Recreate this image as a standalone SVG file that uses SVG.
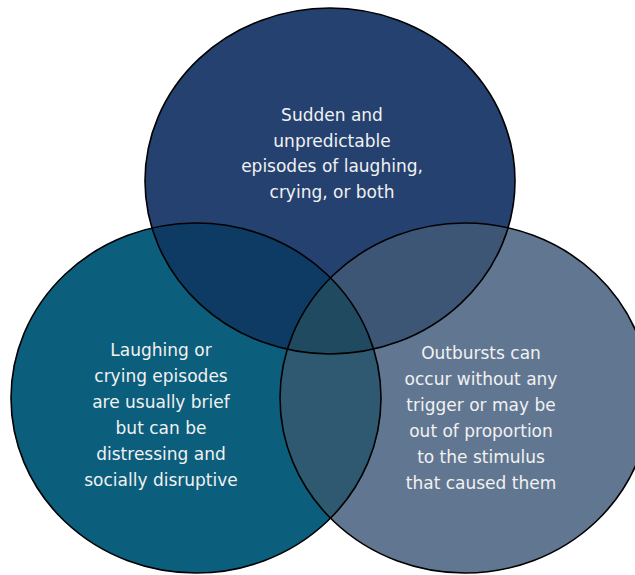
<svg xmlns="http://www.w3.org/2000/svg" width="635" height="575" viewBox="0 0 635 575">
  <style>
    .lbl { font-family: "DejaVu Sans", "Liberation Sans", sans-serif; font-size: 17px; fill: #f1f1f1; text-anchor: middle; }
    .edge { fill: none; stroke: #000; stroke-width: 1.6; }
  </style>
  <defs>
    <clipPath id="clipTop"><ellipse cx="330" cy="181" rx="185" ry="173"/></clipPath>
    <clipPath id="clipLeft"><ellipse cx="196" cy="398" rx="185" ry="175"/></clipPath>
    <clipPath id="clipRight"><ellipse cx="465" cy="398" rx="185" ry="175"/></clipPath>
  </defs>
  <rect width="635" height="575" fill="#ffffff"/>

  <!-- base fills -->
  <g id="set-top-fill"><ellipse cx="330" cy="181" rx="185" ry="173" fill="#25416f"/></g>
  <g id="set-left-fill"><ellipse cx="196" cy="398" rx="185" ry="175" fill="#0b5e7c"/></g>
  <g id="set-right-fill"><ellipse cx="465" cy="398" rx="185" ry="175" fill="#617791"/></g>

  <!-- pairwise overlaps -->
  <g id="overlap-top-left" clip-path="url(#clipTop)">
    <ellipse cx="196" cy="398" rx="185" ry="175" fill="#0e3b63"/>
  </g>
  <g id="overlap-top-right" clip-path="url(#clipTop)">
    <ellipse cx="465" cy="398" rx="185" ry="175" fill="#3e5676"/>
  </g>
  <g id="overlap-left-right" clip-path="url(#clipLeft)">
    <ellipse cx="465" cy="398" rx="185" ry="175" fill="#2e5970"/>
  </g>
  <!-- triple overlap -->
  <g id="overlap-all" clip-path="url(#clipTop)">
    <g clip-path="url(#clipLeft)">
      <ellipse cx="465" cy="398" rx="185" ry="175" fill="#1f4a60"/>
    </g>
  </g>

  <!-- outlines -->
  <g id="outlines">
    <ellipse class="edge" cx="330" cy="181" rx="185" ry="173"/>
    <ellipse class="edge" cx="196" cy="398" rx="185" ry="175"/>
    <ellipse class="edge" cx="465" cy="398" rx="185" ry="175"/>
  </g>

  <g id="node-top">
    <text class="lbl" x="332" y="121">Sudden and</text>
    <text class="lbl" x="332" y="146.5">unpredictable</text>
    <text class="lbl" x="332" y="172">episodes of laughing,</text>
    <text class="lbl" x="332" y="197.5">crying, or both</text>
  </g>
  <g id="node-left">
    <text class="lbl" x="161" y="356">Laughing or</text>
    <text class="lbl" x="161" y="382">crying episodes</text>
    <text class="lbl" x="161" y="408">are usually brief</text>
    <text class="lbl" x="161" y="434">but can be</text>
    <text class="lbl" x="161" y="460">distressing and</text>
    <text class="lbl" x="161" y="486">socially disruptive</text>
  </g>
  <g id="node-right">
    <text class="lbl" x="481" y="359">Outbursts can</text>
    <text class="lbl" x="481" y="385">occur without any</text>
    <text class="lbl" x="481" y="411">trigger or may be</text>
    <text class="lbl" x="481" y="437">out of proportion</text>
    <text class="lbl" x="481" y="463">to the stimulus</text>
    <text class="lbl" x="481" y="489">that caused them</text>
  </g>
</svg>
